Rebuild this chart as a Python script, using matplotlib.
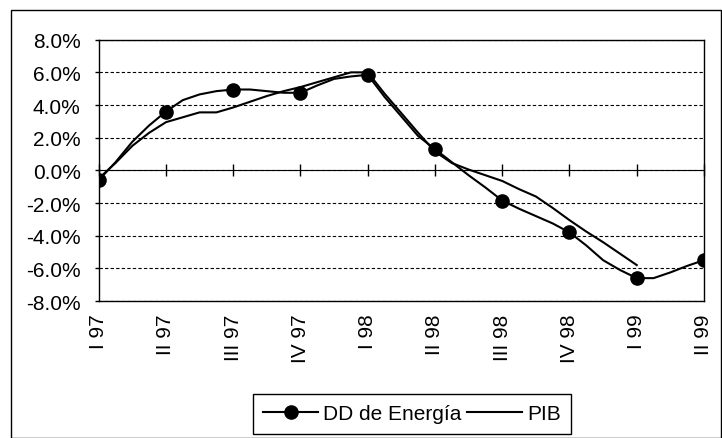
import numpy as np
import matplotlib.pyplot as plt
from matplotlib.patches import Rectangle
from matplotlib.ticker import FuncFormatter, NullFormatter

plt.rcParams['font.family'] = ['Liberation Sans', 'DejaVu Sans']

# Trimestres (etiquetas del eje x), 4 subperiodos por trimestre
trimestres = ["I 97", "II 97", "III 97", "IV 97", "I 98",
              "II 98", "III 98", "IV 98", "I 99", "II 99"]
pasos_por_trim = 4

# Demanda de energía (% variación)
dd_energia = [-0.6, 0.5, 1.75, 2.75, 3.6, 4.3, 4.65, 4.85, 4.95,
              4.95, 4.85, 4.75, 4.75, 5.2, 5.6, 5.75, 5.85,
              4.5, 3.3, 2.1, 1.3, 0.5, -0.3, -1.05, -1.85,
              -2.35, -2.8, -3.25, -3.8, -4.6, -5.5, -6.1, -6.6,
              -6.6, -6.25, -5.85, -5.5]

# PIB (% variación), termina en I 99
pib = [-0.5, 0.45, 1.5, 2.3, 2.95, 3.25, 3.55, 3.55, 3.85,
       4.2, 4.55, 4.85, 5.1, 5.4, 5.7, 6.0, 6.0,
       4.7, 3.5, 2.3, 1.15, 0.45, 0.05, -0.3, -0.65,
       -1.15, -1.6, -2.3, -3.05, -3.75, -4.4, -5.1, -5.8]

x_dd = np.arange(len(dd_energia))
x_pib = np.arange(len(pib))
marcas = x_dd[::pasos_por_trim]
ticks = np.arange(len(trimestres)) * pasos_por_trim

fig = plt.figure(figsize=(7.22, 4.39), dpi=100)
ax = fig.add_axes([98.7/722, 1 - 302/439, (704 - 98.7)/722, (302 - 40.7)/439])

l1, = ax.plot(x_dd, dd_energia, color='black', lw=1.5, marker='o',
              markersize=9.5, markevery=marcas, label='DD de Energía')
l2, = ax.plot(x_pib, pib, color='black', lw=1.5, label='PIB')

ax.set_xlim(0, ticks[-1])
ax.set_ylim(-8, 8)
ax.set_yticks(np.arange(-8, 9, 2))
ax.yaxis.set_major_formatter(FuncFormatter(lambda v, p: f"{v:.1f}%"))
ax.grid(axis='y', color='black', lw=0.8, linestyle=(0, (3, 2)))
ax.set_axisbelow(True)

ax.set_xticks(ticks)
ax.set_xticklabels(trimestres, rotation=90, va='top', ha='center')
ax.tick_params(axis='x', length=0, pad=9, labelsize=15)
ax.tick_params(axis='y', direction='out', length=3, width=1, pad=10, labelsize=15)
for s in ax.spines.values():
    s.set_linewidth(1)
    s.set_color('black')

# eje en cero con marcas de graduación
eje0 = ax.secondary_xaxis(0.5)
eje0.set_xticks(ticks)
eje0.xaxis.set_major_formatter(NullFormatter())
eje0.tick_params(axis='x', direction='inout', length=9, width=1,
                 labelbottom=False, labeltop=False)
eje0.spines['bottom'].set_linewidth(1.2)

fig.legend(handles=[l1, l2], loc='center', bbox_to_anchor=(412/722, 1 - 415/439),
           ncol=2, fontsize=15, frameon=True, fancybox=False, edgecolor='black',
           framealpha=1, handlelength=2.6, handletextpad=0.25, columnspacing=0.3,
           borderpad=0.5, borderaxespad=0)
fig.legends[0].get_frame().set_linewidth(1)

fig.patches.append(Rectangle((10.5/722, 0.5/439), 710/722, 428/439,
                             transform=fig.transFigure, fill=False,
                             edgecolor='black', lw=1))

fig.savefig('out.png', dpi=100)
